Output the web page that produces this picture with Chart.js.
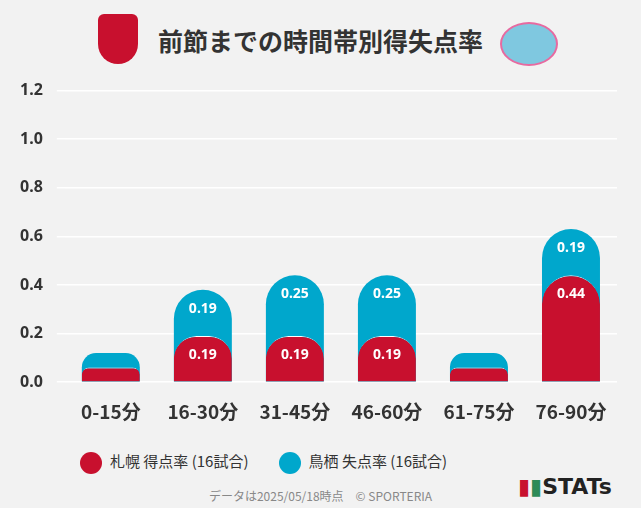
<!DOCTYPE html>
<html><head><meta charset="utf-8">
<script src="https://cdn.jsdelivr.net/npm/chart.js@4"></script>
<style>
body{margin:0;background:#f2f2f2;font-family:"Noto Sans CJK JP","Noto Sans",sans-serif;}
#wrap{position:relative;width:641px;height:508px;background:#f2f2f2;}
#title{position:absolute;top:22px;left:0;width:641px;text-align:center;font-size:25px;font-weight:bold;color:#333;}
#cv{position:absolute;left:0;top:67px;}
#legend{position:absolute;top:450px;left:80px;font-size:15px;color:#333;display:flex;gap:30px;}
.dot{display:inline-block;width:22px;height:22px;border-radius:50%;vertical-align:middle;margin-right:8px;}
#foot{position:absolute;top:487px;left:0;width:641px;text-align:center;font-size:12px;color:#888;}
#stats{position:absolute;top:474px;left:518px;font-size:22px;font-weight:900;color:#222;font-family:"DejaVu Sans";}
.logo1{position:absolute;left:98px;top:14px;width:40px;height:50px;background:#c8102e;border-radius:6px 6px 20px 20px;}
.logo2{position:absolute;left:500px;top:22px;width:54px;height:40px;background:#7fc8e0;border-radius:50%;border:2px solid #e76aa0;}
</style></head><body>
<div id="wrap">
<div class="logo1"></div><div class="logo2"></div>
<div id="title">前節までの時間帯別得失点率</div>
<canvas id="cv" width="641" height="366"></canvas>
<div id="legend"><span><span class="dot" style="background:#c8102e"></span>札幌 得点率 (16試合)</span><span><span class="dot" style="background:#00a7cc"></span>鳥栖 失点率 (16試合)</span></div>
<div id="foot">データは2025/05/18時点　© SPORTERIA</div>
<div id="stats"><span style="color:#c8102e">▮</span><span style="color:#2e8b57">▮</span>STATs</div>
</div>
<script>
const categories=["0-15分","16-30分","31-45分","46-60分","61-75分","76-90分"];
const sapporoScored=[0.06,0.19,0.19,0.19,0.06,0.44];
const tosuConceded=[0.06,0.19,0.25,0.25,0.06,0.19];
const yTicks=[0,0.2,0.4,0.6,0.8,1.0,1.2];
const totals=sapporoScored.map((v,i)=>v+tosuConceded[i]);
const labelPlugin={id:'lbl',afterDatasetsDraw(c){
 const ctx=c.ctx;ctx.save();ctx.font='bold 14px "Noto Sans"';ctx.fillStyle='#fff';ctx.textAlign='center';ctx.textBaseline='middle';
 const mR=c.getDatasetMeta(1),mB=c.getDatasetMeta(0);
 categories.forEach((_,i)=>{
  if(sapporoScored[i]>=0.1){ctx.fillText(sapporoScored[i].toFixed(2),mR.data[i].x,mR.data[i].y+19);}
  if(tosuConceded[i]>=0.1){ctx.fillText(tosuConceded[i].toFixed(2),mB.data[i].x,mB.data[i].y+19);}
 });ctx.restore();}};
new Chart(document.getElementById('cv'),{type:'bar',
data:{labels:categories,datasets:[
 {order:2,data:totals,backgroundColor:'#00a7cc',borderRadius:{topLeft:30,topRight:30},borderSkipped:'bottom',barPercentage:0.63,categoryPercentage:1},
 {order:1,data:sapporoScored,backgroundColor:'#c8102e',borderColor:'#ffffff',borderWidth:{top:1,left:0,right:0,bottom:0},borderRadius:{topLeft:30,topRight:30},borderSkipped:'bottom',barPercentage:0.63,categoryPercentage:1}
]},
plugins:[labelPlugin],
options:{responsive:false,animation:false,layout:{padding:{left:6,right:24,top:12}},
 plugins:{legend:{display:false},tooltip:{enabled:false}},
 scales:{
  x:{stacked:true,grid:{display:false},border:{display:false},ticks:{color:'#333',font:{size:19,weight:'bold',family:'"Noto Sans CJK JP"'},padding:10}},
  y:{stacked:false,min:0,max:1.2,afterBuildTicks(a){a.ticks=yTicks.map(v=>({value:v}));},
   grid:{color:'#ffffff',lineWidth:1.5},border:{display:false},
   ticks:{color:'#333',font:{size:16,weight:'bold',family:'"Noto Sans"'},padding:14,callback:v=>v.toFixed(1)}}
 }}});
</script></body></html>
